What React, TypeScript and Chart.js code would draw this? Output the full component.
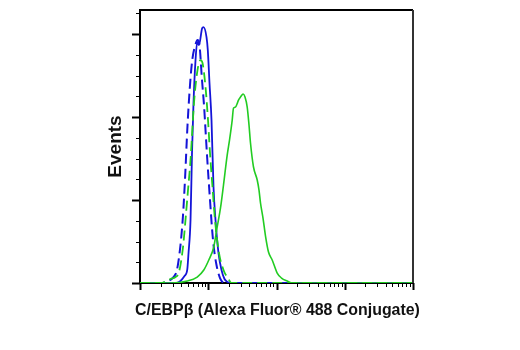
import React, { useEffect, useRef } from "react";
import { Chart, registerables } from "chart.js";

Chart.register(...registerables);

// Fluorescence intensity (log scale) and event counts
const greenSolidX = [1, 2.8, 4.92, 6.89, 8.61, 10.19, 11.94, 13.44, 15.12, 16.73, 18.95, 20.49, 22.44, 23.44, 25.07, 26.38, 27.75, 29.68, 32.52, 34.56, 37.22, 39.55, 41.59, 46.03, 52.17, 55.41, 58.29, 63.42, 69.01, 76.33, 86.5, 102.4, 118.4, 143.5, 171.6, 10000];
const greenSolidY = [0, 0, 2.4, 7.2, 15.7, 27.7, 42.2, 66.3, 90.4, 118.1, 154.2, 172.3, 196.4, 210.8, 212.0, 215.7, 220.5, 224.1, 227.7, 224.1, 212.0, 190.4, 168.7, 139.8, 124.1, 112.0, 96.4, 78.3, 56.6, 37.3, 27.7, 12.0, 6.0, 2.4, 0, 0];

const greenDashedX = [1, 2.0, 2.44, 2.8, 3.31, 3.73, 4.27, 4.64, 5.05, 5.5, 6.18, 6.96, 7.7, 8.24, 9.12, 9.92, 10.61, 11.54, 12.56, 14.38, 16.73, 19.81, 21.92, 10000];
const greenDashedY = [0, 0, 2.4, 4.8, 7.2, 13.3, 43.4, 75.9, 112.0, 148.2, 216.9, 256.6, 268.7, 265.1, 236.1, 196.4, 156.6, 115.7, 75.9, 36.1, 15.7, 4.8, 0, 0];

const blueDashedX = [1, 2.0, 2.62, 3.1, 3.48, 3.92, 4.27, 4.56, 4.97, 5.5, 5.88, 6.4, 6.96, 7.44, 8.1, 8.66, 9.59, 10.61, 11.74, 13.21, 14.87, 17.3, 10000];
const blueDashedY = [0, 0, 2.4, 7.2, 15.7, 45.8, 81.9, 124.1, 190.4, 247.0, 271.1, 285.5, 292.8, 286.7, 244.6, 214.5, 154.2, 100.0, 51.8, 21.7, 6.0, 0, 0];

const blueSolidX = [1, 3.43, 3.92, 4.49, 4.92, 5.14, 5.5, 5.78, 6.08, 6.51, 6.89, 7.32, 8.15, 8.52, 9.43, 9.85, 10.43, 11.16, 11.94, 12.77, 14.13, 15.64, 17.3, 19.15, 22.67, 10000];
const blueSolidY = [0, 0, 2.4, 8.4, 15.7, 36.1, 75.9, 156.6, 216.9, 268.7, 290.4, 286.7, 307.2, 308.4, 296.4, 280.7, 241.0, 196.4, 115.7, 75.9, 36.1, 15.7, 4.8, 1.2, 0, 0];

const xMajorTicks = [1, 10, 100, 1000, 10000];
const xMinorMultipliers = [2, 3, 4, 5, 6, 7, 8, 9];
const yMajorTicks = [0, 100, 200, 300];
const yMinorTicks = [25, 50, 75, 125, 150, 175, 225, 250, 275, 325];

const xTitle = "C/EBPβ (Alexa Fluor® 488 Conjugate)";
const yTitle = "Events";

const fontFamily = "'Liberation Sans Narrow', 'Arial Narrow', 'Liberation Sans', sans-serif";

const toPoints = (xs: number[], ys: number[]) => xs.map((x, i) => ({ x, y: ys[i] }));

const frameAndTicks = {
  id: "frameAndTicks",
  afterDraw(chart: any) {
    const ctx = chart.ctx;
    const { left, right, top, bottom } = chart.chartArea;
    const xs = chart.scales.x;
    const ys = chart.scales.y;
    ctx.save();
    ctx.strokeStyle = "#000";
    const drawX = (v: number, len: number, w: number) => {
      const p = Math.round(xs.getPixelForValue(v)) + 0.5;
      ctx.lineWidth = w;
      ctx.beginPath();
      ctx.moveTo(p, bottom);
      ctx.lineTo(p, bottom + len);
      ctx.stroke();
    };
    for (let d = 0; d < xMajorTicks.length - 1; d++) {
      for (const m of xMinorMultipliers) drawX(xMajorTicks[d] * m, 4, 1);
    }
    xMajorTicks.forEach((v) => drawX(v, 7, 2));
    const drawY = (v: number, len: number, w: number) => {
      const p = Math.round(ys.getPixelForValue(v)) + 0.5;
      ctx.lineWidth = w;
      ctx.beginPath();
      ctx.moveTo(left, p);
      ctx.lineTo(left - len, p);
      ctx.stroke();
    };
    yMinorTicks.forEach((v) => drawY(v, 4, 1));
    yMajorTicks.forEach((v) => drawY(v, 8, 2));
    ctx.lineWidth = 2;
    ctx.beginPath();
    ctx.moveTo(left - 1, top);
    ctx.lineTo(right, top);
    ctx.stroke();
    ctx.strokeStyle = "#333";
    ctx.beginPath();
    ctx.moveTo(right, top);
    ctx.lineTo(right, bottom);
    ctx.stroke();

    // x axis title, sized to the reference's width (~285px), centred under the plot
    let size = 19;
    ctx.font = `bold ${size}px ${fontFamily}`;
    const w = ctx.measureText(xTitle).width;
    size = Math.min(22, Math.max(14, (size * 285) / w));
    ctx.font = `bold ${size}px ${fontFamily}`;
    ctx.fillStyle = "#111";
    ctx.textAlign = "center";
    ctx.textBaseline = "middle";
    ctx.fillText(xTitle, (left + right) / 2 + 1, bottom + 28);
    ctx.restore();
  },
};

export default function App() {
  const ref = useRef<HTMLCanvasElement>(null);
  useEffect(() => {
    if (!ref.current) return;
    const blue = "#1414d8";
    const green = "#22cc22";
    const chart = new Chart(ref.current, {
      type: "line",
      data: {
        datasets: [
          { data: toPoints(greenSolidX, greenSolidY), borderColor: green, borderWidth: 1.6 },
          { data: toPoints(greenDashedX, greenDashedY), borderColor: green, borderWidth: 1.8, borderDash: [10, 5] },
          { data: toPoints(blueDashedX, blueDashedY), borderColor: blue, borderWidth: 2, borderDash: [10, 5] },
          { data: toPoints(blueSolidX, blueSolidY), borderColor: blue, borderWidth: 1.8 },
        ] as any,
      },
      options: {
        animation: false,
        responsive: true,
        maintainAspectRatio: false,
        elements: {
          point: { radius: 0 },
          line: { tension: 0.3, cubicInterpolationMode: "monotone", fill: false },
        },
        layout: { padding: { left: 0, right: 107, top: 10, bottom: 0 } },
        plugins: { legend: { display: false }, tooltip: { enabled: false } },
        scales: {
          x: {
            type: "logarithmic",
            min: 1,
            max: 10000,
            grid: { display: false },
            ticks: { display: false },
            border: { display: true, color: "#000", width: 2 },
            title: { display: false },
            afterFit: (s: any) => { s.height = 67; },
          },
          y: {
            type: "linear",
            min: 0,
            max: 329,
            grid: { display: false },
            ticks: { display: false },
            border: { display: true, color: "#000", width: 2 },
            title: {
              display: true,
              text: yTitle,
              color: "#111",
              font: { family: fontFamily, weight: "bold", size: 19 },
              padding: { top: 104, bottom: 0 },
            },
            afterFit: (s: any) => { s.width = 140; },
          },
        },
      },
      plugins: [frameAndTicks],
    } as any);
    return () => chart.destroy();
  }, []);
  return (
    <div style={{ position: "absolute", left: 0, top: 0, width: 520, height: 350, background: "#fff" }}>
      <canvas ref={ref} />
    </div>
  );
}
